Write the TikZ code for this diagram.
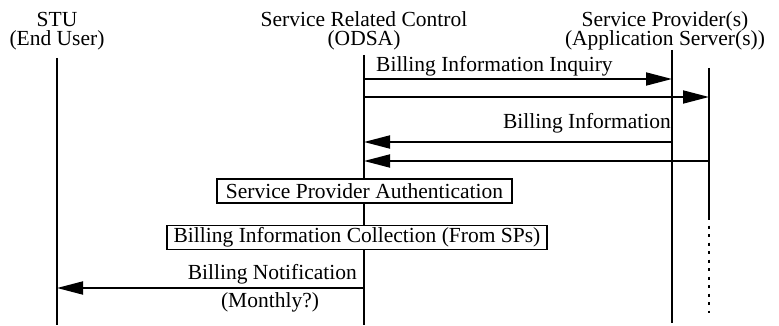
\documentclass[tikz,border=0pt]{standalone}
\usepackage{fontspec}
\setmainfont{Liberation Serif}
\usetikzlibrary{arrows.meta}
\begin{document}
\begin{tikzpicture}[x=1pt,y=-1pt,
  every node/.style={font=\fontsize{21.5}{19.5}\selectfont, inner sep=0pt},
  lifeline/.style={line width=2pt},
  msg/.style={line width=1.8pt, -{Triangle[length=26pt,width=13pt]}},
  actbox/.style={draw, line width=1.6pt, inner xsep=4pt, inner ysep=0pt, minimum height=24pt},
  header/.style={align=center}
]
\useasboundingbox (0,0) rectangle (779,326);

% participants
\node[header] (hstu)  at (57,31)  {STU\\(End User)};
\node[header] (hodsa) at (364,31) {Service Related Control\\(ODSA)};
\node[header] (hsp)   at (665,31) {Service Provider(s)\\(Application Server(s))};

% lifeline end points
\coordinate (stuT)  at (57,58);   \coordinate (stuB)  at (57,325);
\coordinate (odsaT) at (364,55);  \coordinate (odsaB) at (364,325);
\coordinate (spT)   at (672,50);  \coordinate (spB)   at (672,323);
\coordinate (asT)   at (709,68);  \coordinate (asM)   at (709,217);
\coordinate (asB)   at (709,313);

\draw[lifeline] (stuT) -- (stuB);
\draw[lifeline] (odsaT) -- (odsaB);
\draw[lifeline] (spT) -- (spB);
\draw[lifeline] (asT) -- (asM);
\draw[line width=2pt, dash pattern=on 3pt off 5.5pt] (asM) -- (asB);

% message anchors on the lifelines
\coordinate (o1) at (364,79);  \coordinate (s1) at (672,79);
\coordinate (o2) at (364,97);  \coordinate (a2) at (709,97);
\coordinate (o3) at (364,142); \coordinate (s3) at (672,142);
\coordinate (o4) at (364,161); \coordinate (a4) at (709,161);
\coordinate (o5) at (364,288); \coordinate (u5) at (57,288);

% billing inquiry
\draw[msg] (o1) -- (s1);
\node[anchor=base west] (linq) at (376,72) {Billing Information Inquiry};
\draw[msg] (o2) -- (a2);

% billing information replies
\draw[msg] (s3) -- (o3);
\node[anchor=base east] (linfo) at (671,129) {Billing Information};
\draw[msg] (a4) -- (o4);

% local actions at ODSA
\node[actbox, fill=white, minimum width=295pt] (auth) at (364.5,191) {Service Provider Authentication};
\node[actbox, fill=white, minimum width=380pt] (coll) at (357,237.5) {Billing Information Collection (From SPs)};

% notification to the end user
\draw[msg] (o5) -- (u5);
\node[anchor=base east] (lnot) at (357,279) {Billing Notification};
\node[anchor=base] (lmon) at (270,307) {(Monthly?)};
\end{tikzpicture}
\end{document}
